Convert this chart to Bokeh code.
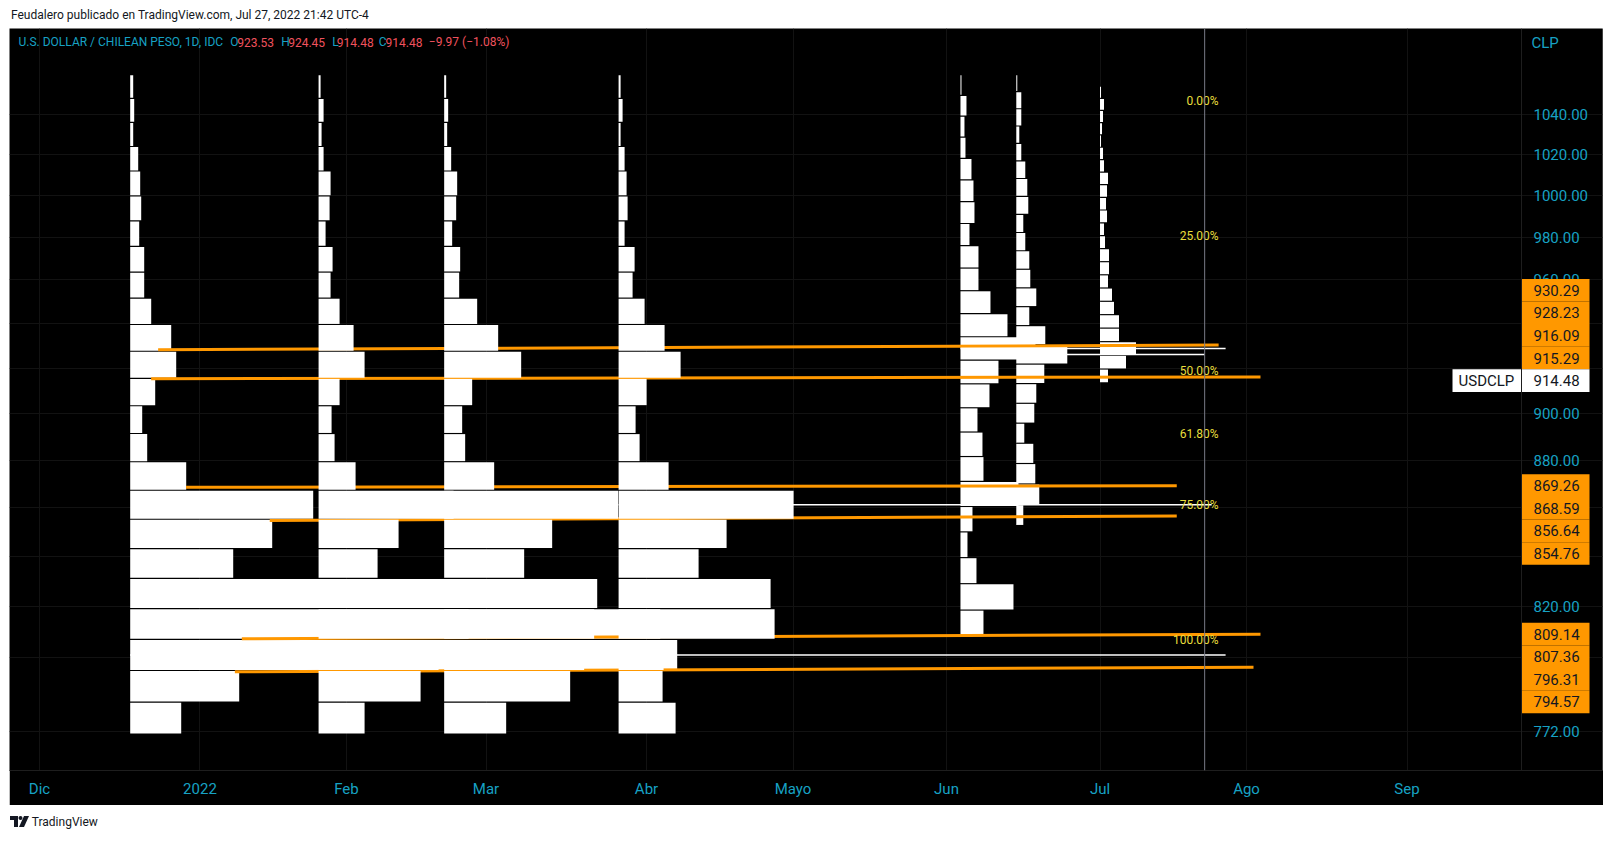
import numpy as np
from bokeh.plotting import figure
from bokeh.models import Range1d, FixedTicker, Span, Label, ColumnDataSource, Div
from bokeh.layouts import column
from bokeh.embed import file_html
from bokeh.resources import INLINE
from bokeh.core.properties import value

# ------------------------------------------------------------------ data
ORIGIN = "2021-12-01"  # daily bar index 0

month_labels = ["Dic", "2022", "Feb", "Mar", "Abr", "Mayo", "Jun", "Jul", "Ago", "Sep"]
month_dates = ["2021-12-01", "2022-01-03", "2022-02-01", "2022-03-01", "2022-04-01",
               "2022-05-02", "2022-06-01", "2022-07-01", "2022-08-01", "2022-09-01"]

price_ticks = [1040, 1020, 1000, 980, 960, 940, 920, 900, 880, 860, 840, 820, 800, 772]
hidden_price_ticks = [940, 920, 860, 840, 800]

# fixed-range volume profiles (rows listed from top price to bottom price)
profile_starts = ["2021-12-20", "2022-01-26", "2022-02-21", "2022-03-28",
                  "2022-06-03", "2022-06-15", "2022-07-01"]
profile_highs = [1060.0, 1060.0, 1060.0, 1060.0, 1060.0, 1060.0, 1054.1]
profile_lows = [771.0, 771.0, 771.0, 771.0, 808.1, 852.7, 913.5]
vol_dec = [3, 4, 3, 8, 10, 11, 9, 14, 14, 21, 41, 46, 25, 12, 17, 56, 183, 142, 103, 467, 530, 547, 109, 51]
vol_jan = [2, 5, 3, 5, 12, 11, 7, 14, 12, 21, 35, 46, 21, 13, 16, 37, 135, 80, 59, 140, 150, 120, 102, 46]
vol_feb = [2, 4, 3, 7, 13, 12, 8, 16, 15, 33, 54, 77, 28, 18, 21, 50, 174, 108, 80, 145, 150, 140, 126, 62]
vol_mar = [2, 4, 2, 6, 8, 9, 6, 16, 14, 26, 46, 62, 28, 17, 21, 50, 175, 108, 80, 152, 156, 45, 44, 57]
vol_jun_a = [1, 6, 4, 5, 11, 13, 14, 9, 18, 18, 30, 47, 75, 38, 29, 17, 22, 23, 58, 12, 7, 16, 53, 23]
vol_jun_b = [1, 5, 5, 3, 5, 9, 11, 12, 7, 9, 13, 14, 20, 13, 29, 51, 28, 20, 18, 8, 17, 19, 23, 7]
vol_jul = [1, 4, 3, 2, 1, 3, 4, 8, 7, 6, 7, 4, 5, 9, 9, 8, 12, 14, 19, 19, 36, 26, 8]
profile_volumes = [vol_dec, vol_jan, vol_feb, vol_mar, vol_jun_a, vol_jun_b, vol_jul]
profiles_under_lines = [0, 4, 5, 6]
profiles_over_lines = [1, 2, 3]

# extended POC lines
poc_profiles = [0, 3, 4, 5]
poc_end_dates = ["2022-07-27", "2022-07-25", "2022-07-27", "2022-07-22"]

# orange trend lines
trend_start_dates = ["2021-12-24", "2021-12-23", "2021-12-30", "2022-01-17", "2022-01-11", "2022-01-10"]
trend_end_dates = ["2022-07-26", "2022-08-03", "2022-07-18", "2022-07-18", "2022-08-03", "2022-08-02"]
trend_start_prices = [928.23, 915.29, 868.59, 854.76, 807.36, 794.57]
trend_end_prices = [930.29, 916.09, 869.26, 856.64, 809.14, 796.31]

# fibonacci retracement labels
fib_ratios = [0.0, 0.25, 0.5, 0.618, 0.75, 1.0]
fib_labels = ["0.00%", "25.00%", "50.00%", "61.80%", "75.00%", "100.00%"]
fib_high = 1046.4
fib_low = 807.0
fib_label_date = "2022-07-26"

cursor_date = "2022-07-22"

symbol = "USDCLP"
currency = "CLP"
last_price = 914.48
legend_title = "U.S. DOLLAR / CHILEAN PESO, 1D, IDC"
ohlc_names = ["O", "H", "L", "C"]
ohlc_values = [923.53, 924.45, 914.48, 914.48]
change_abs = -9.97
change_pct = -1.08

header_text = "Feudalero publicado en TradingView.com, Jul 27, 2022 21:42 UTC-4"

# ------------------------------------------------------------------ style / layout
BG = "#000000"
CYAN = "#17a2c4"
RED = "#f0525e"
ORANGE = "#ff9800"
YELLOW = "#e9df3c"
INK = "#131722"
FONT = "Roboto"
FRAME_W, FRAME_H = 1593, 742   # pane (chart + price scale) in px
SCALE_X = 1512                 # px where the price scale begins
SCALE_LABEL_W = 68             # px width of the price-scale label boxes
SYMBOL_W = 69                  # px extra width of the last-price box (symbol name)
X_VIEW = (-4.30, 224.02)       # visible bar-index window
Y_VIEW = (757.6, 1083.9)       # visible price window (log scale)
PROFILE_SCALE = 1 / 6.977      # bars of width per volume unit
ROW_GAP = 0.00028              # log-space gap between profile rows
LABEL_STEP = 22.6              # px height of stacked price-scale labels


def bar_index(d):
    return int(np.busday_count(ORIGIN, d))


def sx_to_x(sx):
    return X_VIEW[0] + sx * (X_VIEW[1] - X_VIEW[0]) / FRAME_W


ly_top, ly_bot = np.log(Y_VIEW[1]), np.log(Y_VIEW[0])


def to_px(price):
    return FRAME_H * (ly_top - np.log(price)) / (ly_top - ly_bot)


def px_to_price(px):
    return float(np.exp(ly_top - px * (ly_top - ly_bot) / FRAME_H))


p = figure(width=1594, height=777, x_range=Range1d(*X_VIEW), y_range=Range1d(*Y_VIEW),
           y_axis_type="log", y_axis_location=None, output_backend="svg",
           toolbar_location=None, background_fill_color=BG, border_fill_color=BG,
           min_border_left=0, min_border_right=1, min_border_top=0, min_border_bottom=35,
           margin=(0, 0, 0, 9))
p.outline_line_color = None

# time axis
month_idx = [bar_index(d) for d in month_dates]
p.xaxis.ticker = FixedTicker(ticks=month_idx, minor_ticks=[])
p.xaxis.major_label_overrides = {i: lab for i, lab in zip(month_idx, month_labels)}
xa = p.xaxis[0]
xa.axis_line_color = "#1e1e1e"
xa.major_tick_line_color = None
xa.minor_tick_line_color = None
xa.major_label_text_color = CYAN
xa.major_label_text_font = FONT
xa.major_label_text_font_size = "15px"
xa.major_label_standoff = 3
p.xgrid.ticker = FixedTicker(ticks=month_idx)
p.ygrid.ticker = FixedTicker(ticks=price_ticks)
p.grid.grid_line_color = "#121212"

# price scale separator
p.add_layout(Span(location=sx_to_x(SCALE_X), dimension="height", line_color="#1e1e1e", line_width=1))


def profile_source(k):
    vol = np.asarray(profile_volumes[k], dtype=float)
    n = len(vol)
    edges = np.linspace(profile_highs[k], profile_lows[k], n + 1)
    x0 = bar_index(profile_starts[k])
    return dict(left=np.full(n, x0, dtype=float), right=x0 + vol * PROFILE_SCALE,
                top=edges[:-1] * np.exp(-ROW_GAP), bottom=edges[1:] * np.exp(ROW_GAP)), edges


def draw_profile(k):
    data, _ = profile_source(k)
    p.quad(source=ColumnDataSource(data), left="left", right="right", top="top", bottom="bottom",
           fill_color="#ffffff", line_color=None)


for k in profiles_under_lines:
    draw_profile(k)

p.segment(x0=[bar_index(d) for d in trend_start_dates], y0=trend_start_prices,
          x1=[bar_index(d) for d in trend_end_dates], y1=trend_end_prices,
          line_color=ORANGE, line_width=3)

for k in profiles_over_lines:
    draw_profile(k)

# POC lines
px0, py, px1 = [], [], []
for k, end in zip(poc_profiles, poc_end_dates):
    _, edges = profile_source(k)
    r = int(np.argmax(profile_volumes[k]))
    px0.append(bar_index(profile_starts[k]))
    px1.append(bar_index(end))
    py.append(float(np.sqrt(edges[r] * edges[r + 1])))
p.segment(x0=px0, y0=py, x1=px1, y1=py, line_color="#ffffff", line_width=1.5)

# fib labels (log scale retracement)
lh, ll = np.log(fib_high), np.log(fib_low)
fib_prices = [float(np.exp(lh + r * (ll - lh))) for r in fib_ratios]
fx = bar_index(fib_label_date)
p.text(x=[fx] * len(fib_prices), y=fib_prices, text=fib_labels, text_align="right",
       text_baseline="middle", text_color=YELLOW, text_font=value(FONT), text_font_size="12px")

# vertical cursor line
p.add_layout(Span(location=bar_index(cursor_date), dimension="height",
                  line_color="#787b86", line_width=1))

# price scale tick labels
shown = [t for t in price_ticks if t not in hidden_price_ticks]
p.text(x=[sx_to_x(SCALE_X + 12)] * len(shown), y=shown, text=[f"{t:.2f}" for t in shown],
       text_align="left", text_baseline="middle", text_color=CYAN,
       text_font=value(FONT), text_font_size="15px")

# price-scale labels of the drawings, stacked so they do not overlap
axis_prices = sorted(set(trend_start_prices + trend_end_prices))
centers = {}
cur = to_px(last_price)
for pr in sorted([a for a in axis_prices if a > last_price]):
    cur = min(to_px(pr), cur - LABEL_STEP)
    centers[pr] = cur
cur = to_px(last_price)
for pr in sorted([a for a in axis_prices if a < last_price], reverse=True):
    cur = max(to_px(pr), cur + LABEL_STEP)
    centers[pr] = cur

c_px = [centers[pr] for pr in axis_prices]
p.quad(left=sx_to_x(SCALE_X), right=sx_to_x(SCALE_X + SCALE_LABEL_W),
       top=[px_to_price(c - LABEL_STEP / 2) for c in c_px],
       bottom=[px_to_price(c + LABEL_STEP / 2) for c in c_px],
       fill_color=ORANGE, line_color=None)
p.text(x=[sx_to_x(SCALE_X + 12)] * len(c_px), y=[px_to_price(c) for c in c_px],
       text=[f"{pr:.2f}" for pr in axis_prices], text_align="left", text_baseline="middle",
       text_color=INK, text_font=value(FONT), text_font_size="15px")

# last price label with symbol name
lp = to_px(last_price)
p.quad(left=sx_to_x(SCALE_X - SYMBOL_W), right=sx_to_x(SCALE_X + SCALE_LABEL_W),
       top=px_to_price(lp - LABEL_STEP / 2), bottom=px_to_price(lp + LABEL_STEP / 2),
       fill_color="#ffffff", line_color=None)
p.text(x=[sx_to_x(SCALE_X - SYMBOL_W + 6), sx_to_x(SCALE_X + 12)], y=[last_price, last_price],
       text=[symbol, f"{last_price:.2f}"], text_align="left", text_baseline="middle",
       text_color=INK, text_font=value(FONT), text_font_size="15px")

# legend (top-left of pane)
items = [(legend_title, CYAN)]
for n, v in zip(ohlc_names, ohlc_values):
    items += [(n, CYAN), (f"{v:.2f}", RED)]
items.append((f"\u2212{abs(change_abs):.2f} (\u2212{abs(change_pct):.2f}%)", RED))
legend_x = [9, 220.7, 227.7, 271.7, 278.7, 322.7, 327.3, 369.3, 376.0, 419.3]
for (t, c), x in zip(items, legend_x):
    p.add_layout(Label(x=x, y=FRAME_H - 13.7, x_units="screen", y_units="screen", text=t,
                       text_align="left", text_baseline="middle", text_color=c,
                       text_font=FONT, text_font_size="12px"))

p.add_layout(Label(x=SCALE_X + 10, y=FRAME_H - 14, x_units="screen", y_units="screen",
                   text=currency, text_align="left", text_baseline="middle",
                   text_color=CYAN, text_font=FONT, text_font_size="15px"))

header = Div(text=header_text, width=1600, height=28, margin=(0, 0, 0, 0),
             styles={"font-family": "Roboto", "font-size": "12px", "color": INK,
                     "line-height": "30px", "padding-left": "11px", "white-space": "nowrap"})
logo_svg = ('<svg width="19" height="11" viewBox="0 0 19 11" style="vertical-align:-1px">'
            '<path d="M0 0h8v11h-4v-7h-4z" fill="#131722"/><circle cx="10.5" cy="2" r="2" fill="#131722"/>'
            '<path d="M14 0h5l-5 11h-5z" fill="#131722"/></svg>')
footer = Div(text=logo_svg + ' <span>TradingView</span>', width=1600, height=36,
             margin=(0, 0, 0, 0),
             styles={"font-family": "Roboto", "font-size": "12px", "color": INK,
                     "line-height": "34px", "padding-left": "10px", "white-space": "nowrap"})

layout = column(header, p, footer, spacing=0)
open("out.html", "w").write(file_html(layout, INLINE))
